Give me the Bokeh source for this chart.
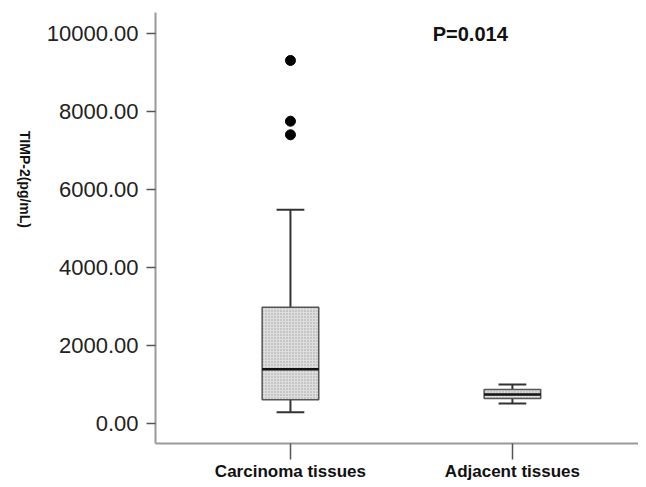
import math
from bokeh.plotting import figure
from bokeh.models import FixedTicker, PrintfTickFormatter, Label, Range1d
from bokeh.embed import file_html
from bokeh.resources import INLINE

categories = ["Carcinoma tissues", "Adjacent tissues"]
cat_pos = [1, 2]
lower_whisker = [290, 513]
q1 = [607, 641]
median = [1393, 744]
q3 = [2982, 872]
upper_whisker = [5479, 1000]
outlier_cat = [1, 1, 1]
outlier_val = [9308, 7751, 7402]
y_ticks = [0, 2000, 4000, 6000, 8000, 10000]
p_text = "P=0.014"
y_title = "TIMP-2(pg/mL)"

FONT = "Liberation Sans"
box_w = 0.255
cap_w = 0.125

p = figure(width=638, height=484, output_backend="svg", toolbar_location=None,
           x_range=Range1d(0.392, 2.568), y_range=Range1d(-513, 10538),
           min_border_left=155, min_border_right=0, min_border_top=12, min_border_bottom=41)
p.outline_line_color = None
p.xgrid.visible = False
p.ygrid.visible = False
p.background_fill_color = "white"

# whiskers
lo_cap_l = [c - cap_w / 2 for c in cat_pos]
lo_cap_r = [c + cap_w / 2 for c in cat_pos]
p.segment(x0=cat_pos, y0=q3, x1=cat_pos, y1=upper_whisker, line_color="#333333", line_width=2)
p.segment(x0=cat_pos, y0=q1, x1=cat_pos, y1=lower_whisker, line_color="#333333", line_width=2)
p.segment(x0=lo_cap_l, y0=upper_whisker, x1=lo_cap_r, y1=upper_whisker, line_color="#333333", line_width=2)
p.segment(x0=lo_cap_l, y0=lower_whisker, x1=lo_cap_r, y1=lower_whisker, line_color="#333333", line_width=2)

# boxes
p.vbar(x=cat_pos, width=box_w, top=q3, bottom=q1, fill_color="#dedede",
       hatch_pattern="dot", hatch_color="#a0a0a0", hatch_scale=3, hatch_weight=1,
       line_color="#555555", line_width=1.5)
box_l = [c - box_w / 2 for c in cat_pos]
box_r = [c + box_w / 2 for c in cat_pos]
p.segment(x0=box_l, y0=median, x1=box_r, y1=median, line_color="#111111", line_width=2.5)

# outliers
p.scatter(x=outlier_cat, y=outlier_val, size=10, marker="circle", fill_color="black", line_color="black")

# axes
p.yaxis.ticker = FixedTicker(ticks=y_ticks)
p.yaxis.formatter = PrintfTickFormatter(format="%.2f")
p.yaxis.major_label_text_font = FONT
p.yaxis.major_label_text_font_size = "22px"
p.yaxis.major_label_text_color = "#222222"
p.yaxis.major_tick_in = 0
p.yaxis.major_tick_out = 9
p.yaxis.minor_tick_line_color = None
p.yaxis.major_label_standoff = 8
p.yaxis.axis_line_color = "#999999"
p.yaxis.axis_line_width = 2
p.yaxis.major_tick_line_color = "#555555"
p.yaxis.major_tick_line_width = 1.5
p.yaxis.axis_label = y_title
p.yaxis.axis_label_orientation = -math.pi / 2
p.yaxis.axis_label_text_font = FONT
p.yaxis.axis_label_text_font_style = "bold"
p.yaxis.axis_label_text_font_size = "14px"
p.yaxis.axis_label_text_color = "#111111"
p.yaxis.axis_label_standoff = 19

p.xaxis.ticker = FixedTicker(ticks=cat_pos)
p.xaxis.major_label_overrides = {cat_pos[i]: categories[i] for i in range(len(categories))}
p.xaxis.major_label_text_font = FONT
p.xaxis.major_label_text_font_style = "bold"
p.xaxis.major_label_text_font_size = "17px"
p.xaxis.major_label_text_color = "#111111"
p.xaxis.major_tick_in = 0
p.xaxis.major_tick_out = 16
p.xaxis.minor_tick_line_color = None
p.xaxis.major_label_standoff = 2
p.xaxis.axis_line_color = "#999999"
p.xaxis.axis_line_width = 2
p.xaxis.major_tick_line_color = "#555555"
p.xaxis.major_tick_line_width = 1.5

plab = Label(x=1.81, y=9987, text=p_text, text_align="center", text_baseline="middle",
             text_font=FONT, text_font_style="bold", text_font_size="20px", text_color="#111111")
p.add_layout(plab)

open("out.html", "w").write(file_html(p, INLINE))
